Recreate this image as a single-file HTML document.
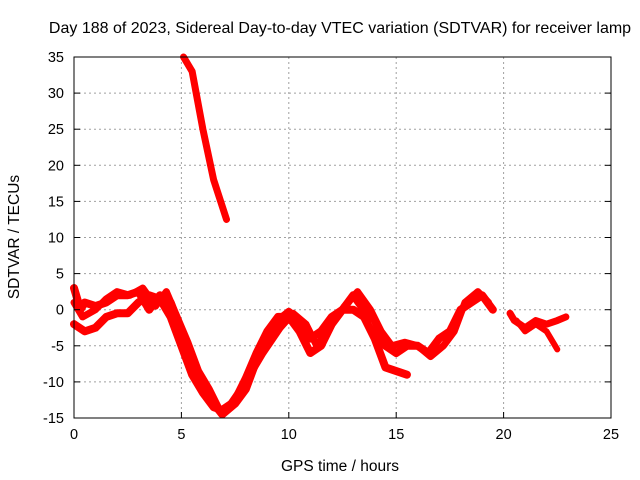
<!DOCTYPE html>
<html><head><meta charset="utf-8"><style>
body{margin:0;background:#fff;}
svg{display:block;font-family:"Liberation Sans",sans-serif;}
</style></head><body>
<svg id="chart" width="640" height="480">
<text x="340" y="33" font-size="16" text-anchor="middle">Day 188 of 2023, Sidereal Day-to-day VTEC variation (SDTVAR) for receiver lamp</text>
<g id="grid"></g><g id="series"></g><g id="axes"></g>
<text x="340" y="471" font-size="15.5" text-anchor="middle">GPS time / hours</text>
<text transform="translate(19,237) rotate(-90)" font-size="15.5" text-anchor="middle">SDTVAR / TECUs</text>
</svg>
<script>
const xTicks=[0,5,10,15,20,25];
const yTicks=[-15,-10,-5,0,5,10,15,20,25,30,35];
const seriesA_t=[0,0.3,0.5,1,1.5,2,2.5,3,3.5,4,4.5,5,5.5,6,6.5,6.9,7.5,8,8.5,9,9.5,10,10.3,10.8,11,11.5,12,12.5,13,13.5,14,14.5,15,15.5,16,16.5,17,17.5,18,18.5,19,19.5];
const seriesA_v=[3,0,1,0.5,1,2,2,2.5,0,2,1,-3,-7,-10,-13,-14.5,-13,-11,-7,-4,-1.5,-0.3,-1,-4,-4,-3,-1,0,2,0,-1.5,-5,-6,-5,-5,-6,-4,-3,0,1,2,0];
const seriesB_t=[0,0.5,1,1.5,2,2.5,3,3.5,4,4.5,5,5.5,6,6.5,7,7.5,8,8.5,9,9.5,10,10.5,11,11.5,12,12.5,13,13.5,14,14.5,15,15.5];
const seriesB_v=[-2,-3,-2.5,-1,-0.5,-0.5,1,2,1.5,-1,-5,-9,-11.5,-13.5,-14,-12.5,-9.5,-6,-3,-1,-1,-3,-6,-5,-2,0,0,-1,-4,-8,-8.5,-9];
const seriesC_t=[0,0.4,1,1.5,2,2.6,3.2,3.8,4.3,4.8,5.3,5.8,6.3,6.8,7.3,8,8.8,9.6,10.2,10.8,11.3,12,12.6,13.2,13.8,14.3,14.8,15.4,16,16.6,17.2,17.7,18.2,18.8,19.3];
const seriesC_v=[1,-1,0,1.5,2.5,2,3,0.5,2.5,-1,-4.5,-8.5,-11,-14,-13,-10,-6,-2.5,-0.5,-2,-5,-2,0.5,2.5,0,-3,-5,-4.5,-5,-6.5,-5,-3,1,2.5,1];
const seriesD_t=[5.1,5.5,6,6.5,7.1];
const seriesD_v=[35,33,25,18,12.5];
const seriesE_t=[20.3,20.5,21,21.5,22,22.5,22.9];
const seriesE_v=[-0.5,-1.5,-2.5,-1.5,-2,-1.5,-1];
const seriesF_t=[20.6,21,21.5,22,22.5];
const seriesF_v=[-1.5,-3,-2,-3,-5.5];
const L=74,R=611,T=57,B=418;
const xs=v=>L+(v-0)/25*(R-L);
const ys=v=>B-(v+15)/50*(B-T);
const NS="http://www.w3.org/2000/svg";
function mk(tag,attrs,parent){const e=document.createElementNS(NS,tag);for(const k in attrs)e.setAttribute(k,attrs[k]);parent.appendChild(e);return e;}
const grid=document.getElementById('grid'),axes=document.getElementById('axes'),ser=document.getElementById('series');
xTicks.forEach(t=>{
  if(t>0&&t<25){const g=mk('line',{x1:xs(t),x2:xs(t),y1:T,y2:B,stroke:'#a0a0a0','stroke-dasharray':'2,3'},grid);
  
  }
  const tk=mk('line',{x1:xs(t),x2:xs(t),y1:B,y2:B-6,stroke:'#000'},axes);
  
  
  const tt=mk('text',{x:xs(t),y:B+21,'font-size':14.5,'text-anchor':'middle'},axes);tt.textContent=t;
  
  
});
yTicks.forEach(t=>{
  if(t>-15&&t<35){const g=mk('line',{x1:L,x2:R,y1:ys(t),y2:ys(t),stroke:'#a0a0a0','stroke-dasharray':'2,3'},grid);
  
  }
  const tk=mk('line',{x1:L,x2:L+6,y1:ys(t),y2:ys(t),stroke:'#000'},axes);
  
  
  mk('line',{x1:R,x2:R-6,y1:ys(t),y2:ys(t),stroke:'#000'},axes);
  const tt=mk('text',{x:L-10,y:ys(t)+5,'font-size':14.5,'text-anchor':'end'},axes);tt.textContent=t;
  
  
});
const fr=mk('rect',{x:L,y:T,width:R-L,height:B-T,fill:'none',stroke:'#000'},axes);


const all=[[seriesA_t,seriesA_v,8],[seriesB_t,seriesB_v,8],[seriesC_t,seriesC_v,7],[seriesD_t,seriesD_v,7],[seriesE_t,seriesE_v,7],[seriesF_t,seriesF_v,6]];
all.forEach(([t,v,w],i)=>{
  const p=mk('polyline',{points:t.map((x,j)=>xs(x)+','+ys(v[j])).join(' '),fill:'none',stroke:'#ff0000','stroke-width':w,'stroke-linejoin':'round','stroke-linecap':'round'},ser);
  
  
});
</script>
</body></html>
